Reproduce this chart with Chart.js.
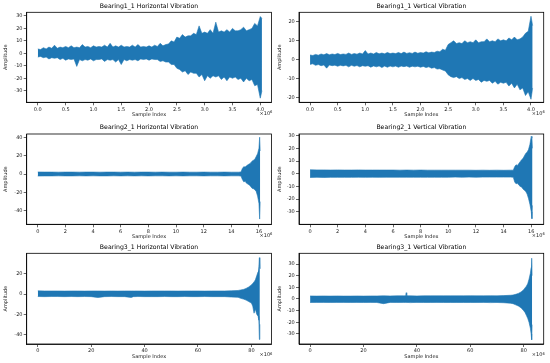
<!DOCTYPE html>
<html>
<head>
<meta charset="utf-8">
<script src="https://cdn.jsdelivr.net/npm/chart.js@4.4.1/dist/chart.umd.min.js"></script>
<style>
  html, body { margin: 0; padding: 0; background: #fff; }
  #wrap { position: relative; width: 550px; height: 363px; overflow: hidden; }
  canvas { position: absolute; }
</style>
</head>
<body>
<div id="wrap"></div>
<script>
// sample index, in units of 1e6
const bearing1X = [
  0, 0.05, 0.1, 0.15, 0.2, 0.25, 0.3, 0.35, 0.4, 0.45,
  0.5, 0.55, 0.6, 0.65, 0.7, 0.75, 0.8, 0.85, 0.9, 0.95,
  1.0, 1.05, 1.1, 1.15, 1.2, 1.25, 1.3, 1.35, 1.4, 1.45,
  1.5, 1.55, 1.6, 1.65, 1.7, 1.75, 1.8, 1.85, 1.9, 1.95,
  2.0, 2.05, 2.1, 2.15, 2.2, 2.25, 2.3, 2.35, 2.4, 2.45,
  2.5, 2.55, 2.6, 2.65, 2.7, 2.75, 2.8, 2.85, 2.9, 2.95,
  3.0, 3.05, 3.1, 3.15, 3.2, 3.25, 3.3, 3.35, 3.4, 3.45,
  3.5, 3.55, 3.6, 3.65, 3.7, 3.75, 3.8, 3.85, 3.9, 3.95,
  4.0, 4.03];
const bearing2X = [0, 0.5, 1, 1.5, 2, 2.5, 3, 3.5, 4, 4.5, 5, 5.5, 6, 6.5, 7, 7.5, 8, 8.5, 9, 9.5, 10, 10.5, 11, 11.5,
  12, 12.5, 13, 13.5, 14, 14.5, 14.7, 14.8, 14.9, 15.0, 15.1, 15.2, 15.3, 15.4, 15.5, 15.6, 15.7, 15.8, 15.9, 16.0, 16.05, 16.09];
const bearing3X = [0, 2.5, 5, 7.5, 10, 12.5, 15, 17.5, 20, 22.5, 25, 27.5, 30, 32.5, 35, 35.8, 36, 36.2, 37.5, 40, 42.5,
  45, 47.5, 50, 52.5, 55, 57.5, 60, 62.5, 65, 67.5, 70, 72.5, 75, 76, 77, 78, 79, 80, 80.5, 81, 81.5, 82, 82.5, 82.8,
  83.0, 83.17];

// amplitude envelopes (upper / lower)
const b1hUpper = [
  3.5, 3, 4.5, 3.5, 5, 4, 6.5, 4, 5, 4.5,
  5.5, 4.5, 6, 4.5, 5, 4.5, 7, 5, 5.5, 4.5,
  6, 5, 5.5, 5, 6.5, 5, 8, 5, 6, 5,
  6.5, 5, 5.5, 5, 6.5, 5, 7, 5, 5.5, 5,
  6, 5, 6.5, 5.5, 8, 6, 7, 7.5, 10, 9,
  13, 12, 15, 13, 14, 14, 16, 15, 22, 16,
  17, 16, 19, 16, 25, 17, 18, 17, 19, 17,
  20, 18, 18, 19, 21, 18, 19, 20, 24, 22,
  29.5, 28];
const b1hLower = [
  -3, -2.5, -3.5, -3, -4.5, -3.5, -4, -3.5, -5, -4,
  -5.5, -4.5, -5, -4.5, -10.5, -5, -6, -5, -5.5, -4.5,
  -6, -5, -5, -4.5, -6.5, -5, -5.5, -5, -7, -5,
  -9, -5, -6, -5, -5.5, -5, -6, -4.5, -5, -4.5,
  -5.5, -4.5, -5, -5, -6.5, -6, -7, -7, -9, -9,
  -12, -13, -15, -14, -17, -15, -16, -16, -19, -17,
  -22, -18, -20, -18, -19, -18, -21, -19, -22, -19,
  -20, -19, -21, -20, -23, -20, -22, -21, -26, -25,
  -36, -30];
const b1vUpper = [
  2.5, 2.2, 2.8, 2.4, 3, 2.6, 3.2, 2.6, 3, 2.7,
  3.3, 2.7, 3, 2.8, 3.5, 2.8, 3.2, 2.9, 3.5, 3,
  4.8, 3, 3.5, 3, 3.8, 3.1, 3.5, 3.1, 3.8, 3.2,
  3.5, 3.2, 3.8, 3.2, 4, 3.3, 3.7, 3.3, 4, 3.4,
  3.8, 3.5, 4.2, 3.6, 4, 3.8, 4.5, 4.2, 5.5, 5,
  8, 9, 10, 8.5, 9, 8.5, 10, 9, 9.5, 9,
  10.5, 9, 9.5, 9.5, 11, 9.5, 10, 9.5, 11, 10,
  10.5, 10, 11.5, 10.5, 12, 10.5, 11, 12, 14, 15,
  23, 18];
const b1vLower = [
  -2.5, -2.2, -3, -2.6, -3.2, -2.8, -4.5, -2.8, -3.2, -2.9,
  -3.5, -3, -3.3, -3, -3.8, -3, -3.5, -3.1, -3.8, -3.2,
  -3.5, -3.2, -4, -3.3, -3.8, -3.3, -4.2, -3.4, -4, -3.4,
  -3.8, -3.4, -4, -3.4, -3.7, -3.4, -4, -3.5, -3.8, -3.5,
  -4, -3.6, -4.2, -3.8, -4.5, -4.2, -5, -4.8, -5.5, -6,
  -8, -9, -9.5, -9, -10, -9.5, -10.5, -10, -11, -10,
  -11, -10.5, -12, -11, -11.5, -11, -12.5, -11.5, -13, -12,
  -12.5, -12, -14, -12.5, -15, -13, -16, -15, -19, -17,
  -21, -15];

const b2hUpper = [2.2, 2.1, 2.1, 2.0, 2.1, 2.1, 2.0, 2.1, 2.1, 2.0, 2.1, 2.1, 2.0, 2.1, 2.0, 2.1, 2.1, 2.0, 2.1, 2.0, 2.0, 2.1,
  2.0, 2.0, 2.1, 2.0, 2.0, 2.1, 2.0, 2.0, 2.2, 6, 8, 7.5, 9, 10, 11, 12, 14, 15, 16, 19, 22, 28, 40, 25];
const b2hLower = [-2.2, -2.1, -2.1, -2.0, -2.1, -2.1, -2.0, -2.1, -2.0, -2.1, -2.1, -2.0, -2.1, -2.0, -2.1, -2.0, -2.1, -2.0, -2.0,
  -2.1, -2.0, -2.1, -2.0, -2.0, -2.1, -2.0, -2.0, -2.1, -2.0, -2.0, -2.2, -6, -8.5, -8, -10, -11, -12, -13.5, -15.5, -16, -17,
  -19, -24, -32, -49, -30];
const b2vUpper = [3.1, 3.0, 3.0, 2.9, 3.0, 2.9, 2.9, 3.0, 2.9, 2.9, 2.9, 2.9, 2.9, 2.8, 2.9, 2.8, 2.9, 2.8, 2.8, 2.8, 2.8, 2.8,
  2.8, 2.8, 2.7, 2.8, 2.7, 2.8, 2.7, 2.8, 2.8, 5.5, 7, 6.5, 8, 9.5, 11, 12, 14, 16, 17, 19, 23, 29.5, 28, 20];
const b2vLower = [-3.0, -2.9, -3.0, -2.9, -2.9, -2.9, -2.9, -2.8, -2.9, -2.8, -2.9, -2.8, -2.8, -2.8, -2.8, -2.8, -2.8, -2.8, -2.8,
  -2.8, -2.8, -2.7, -2.8, -2.7, -2.8, -2.7, -2.7, -2.7, -2.7, -2.7, -2.8, -6.5, -8, -7.5, -9, -10, -10.5, -12, -13, -14, -16,
  -19.5, -24, -30, -35.5, -25];

const b3hUpper = [3.1, 3.0, 3.0, 3.0, 2.9, 3.0, 3.0, 2.9, 3.0, 3.0, 2.9, 3.0, 2.9, 3.0, 3.0, 3.0, 3.0, 3.0, 3.0, 2.9, 3.0,
  3.0, 3.0, 3.0, 2.9, 3.0, 3.0, 3.0, 2.9, 3.0, 3.0, 3.0, 3.2, 3.5, 4, 4.5, 5.5, 7, 9, 10.5, 12, 14, 18, 22, 27, 36, 25];
const b3hLower = [-2.5, -2.6, -2.5, -2.5, -2.6, -2.5, -2.6, -2.5, -2.6, -3.5, -2.6, -2.5, -2.6, -2.6, -3.4, -2.6, -2.6, -2.6, -2.5,
  -2.6, -2.6, -2.6, -2.5, -2.6, -2.6, -2.5, -2.6, -2.6, -2.5, -2.6, -2.6, -2.6, -3.0, -3.3, -4.3, -5, -6, -7.5, -9, -12, -19,
  -15, -20, -22, -26, -45, -30];
const b3vUpper = [2.6, 2.5, 2.6, 2.5, 2.6, 2.5, 2.5, 2.6, 2.5, 2.6, 2.6, 2.7, 2.6, 2.7, 2.7, 2.7, 5.4, 2.7, 2.7, 2.6, 2.7,
  2.7, 2.7, 2.7, 2.7, 2.7, 2.7, 2.8, 2.7, 2.7, 2.8, 2.7, 2.9, 3.2, 3.4, 4, 4.8, 6, 8, 9.5, 11, 13, 17, 22, 27, 35, 20];
const b3vLower = [-3.0, -2.9, -2.9, -3.0, -2.9, -2.9, -3.0, -2.9, -3.0, -2.9, -3.0, -4.0, -2.9, -3.0, -2.9, -2.9, -3.0, -2.9, -3.1,
  -2.9, -3.0, -3.0, -2.9, -3.0, -3.0, -3.0, -3.0, -3.0, -3.0, -2.9, -3.1, -3.0, -3.2, -3.6, -4, -5, -6, -7.5, -10, -11.5,
  -14, -16.5, -20, -25, -30, -35, -22];

// tick labels
const b1XTicks = [0, 0.5, 1.0, 1.5, 2.0, 2.5, 3.0, 3.5, 4.0];
const b2XTicks = [0, 2, 4, 6, 8, 10, 12, 14, 16];
const b3XTicks = [0, 20, 40, 60, 80];
const b1hYTicks = [-30, -20, -10, 0, 10, 20, 30];
const b1vYTicks = [-20, -10, 0, 10, 20];
const b2hYTicks = [-40, -20, 0, 20, 40];
const b2vYTicks = [-30, -20, -10, 0, 10, 20, 30];
const b3hYTicks = [-40, -20, 0, 20];
const b3vYTicks = [-30, -20, -10, 0, 10, 20, 30];

const titles = ['Bearing1_1 Horizontal Vibration', 'Bearing1_1 Vertical Vibration',
  'Bearing2_1 Horizontal Vibration', 'Bearing2_1 Vertical Vibration',
  'Bearing3_1 Horizontal Vibration', 'Bearing3_1 Vertical Vibration'];

const BLUE = '#1f77b4';
const FONT = 'DejaVu Sans';

// layout of the 3x2 grid
const cols = [
  { left: 0, yw: 26.7, rpad: 3.6, ytPad: 2.7 },
  { left: 275, yw: 24, rpad: 6.3, ytPad: 1.7 }
];
const rows = [
  { top: 0, tpad: 12.3, xh: 18.7 },
  { top: 121, tpad: 13, xh: 17.7 },
  { top: 242, tpad: 11.3, xh: 19 }
];

const panels = [
  { xs: bearing1X, up: b1hUpper, lo: b1hLower, xr: [-0.2, 4.2], yr: [-39.3, 32.9], xt: b1XTicks, yt: b1hYTicks, dec: 1 },
  { xs: bearing1X, up: b1vUpper, lo: b1vLower, xr: [-0.2, 4.23], yr: [-22.6, 25.1], xt: b1XTicks, yt: b1vYTicks, dec: 1 },
  { xs: bearing2X, up: b2hUpper, lo: b2hLower, xr: [-0.8, 16.9], yr: [-54.7, 43.5], xt: b2XTicks, yt: b2hYTicks, dec: 0 },
  { xs: bearing2X, up: b2vUpper, lo: b2vLower, xr: [-0.8, 16.9], yr: [-39.9, 31.3], xt: b2XTicks, yt: b2vYTicks, dec: 0 },
  { xs: bearing3X, up: b3hUpper, lo: b3hLower, xr: [-4.16, 87.5], yr: [-49.5, 40.3], xt: b3XTicks, yt: b3hYTicks, dec: 0 },
  { xs: bearing3X, up: b3vUpper, lo: b3vLower, xr: [-4.16, 87.5], yr: [-38.6, 39.2], xt: b3XTicks, yt: b3vYTicks, dec: 0 }
];

// frame, title and the x10^6 offset text
const framePlugin = {
  id: 'frame',
  afterDraw(chart, args, opts) {
    const { ctx, chartArea: a } = chart;
    ctx.save();
    ctx.strokeStyle = '#000';
    ctx.lineWidth = 0.8;
    ctx.strokeRect(a.left, a.top, a.right - a.left, a.bottom - a.top);

    ctx.fillStyle = '#000';
    ctx.font = '6.2px "' + FONT + '"';
    ctx.textAlign = 'center';
    ctx.textBaseline = 'middle';
    ctx.fillText(opts.title, (a.left + a.right) / 2, a.top - 6.3);

    ctx.textAlign = 'right';
    ctx.font = '3.6px "' + FONT + '"';
    ctx.fillStyle = '#222';
    const supW = ctx.measureText('6').width;
    ctx.fillText('6', a.right + 1, a.bottom + 9.6);
    ctx.font = '5px "' + FONT + '"';
    ctx.fillText('\u00d710', a.right + 1 - supW, a.bottom + 11);
    ctx.restore();
  }
};

panels.forEach((p, i) => {
  const col = cols[i % 2];
  const row = rows[Math.floor(i / 2)];
  const canvas = document.createElement('canvas');
  canvas.width = 275;
  canvas.height = 121;
  canvas.style.left = col.left + 'px';
  canvas.style.top = row.top + 'px';
  document.getElementById('wrap').appendChild(canvas);

  const upper = p.xs.map((x, k) => ({ x: x, y: p.up[k] }));
  const lower = p.xs.map((x, k) => ({ x: x, y: p.lo[k] }));
  const tickFont = { family: FONT, size: 5 };
  const gridOpts = { display: true, drawOnChartArea: false, drawTicks: true, tickLength: 3, color: '#000', lineWidth: 0.6 };

  new Chart(canvas, {
    type: 'line',
    data: {
      datasets: [
        { data: upper, borderColor: BLUE, borderWidth: 0.6, backgroundColor: BLUE, pointRadius: 0, fill: false, tension: 0 },
        { data: lower, borderColor: BLUE, borderWidth: 0.6, backgroundColor: BLUE, pointRadius: 0, fill: '-1', tension: 0 }
      ]
    },
    options: {
      responsive: false,
      animation: false,
      events: [],
      layout: { padding: { top: row.tpad, right: col.rpad, left: 0, bottom: 0 } },
      plugins: {
        legend: { display: false },
        tooltip: { enabled: false },
        frame: { title: titles[i] }
      },
      scales: {
        x: {
          type: 'linear',
          min: p.xr[0],
          max: p.xr[1],
          afterBuildTicks: s => { s.ticks = p.xt.map(v => ({ value: v })); },
          afterFit: s => { s.height = row.xh; },
          ticks: {
            font: tickFont, color: '#222', padding: 1.2, maxRotation: 0, autoSkip: false,
            callback: v => v.toFixed(p.dec)
          },
          grid: gridOpts,
          border: { display: true, color: '#000', width: 0.8 },
          title: {
            display: true, text: 'Sample Index', color: '#222',
            font: { family: FONT, size: 5 },
            padding: { top: 0, bottom: row.xh - 12.7 - 3 }
          }
        },
        y: {
          type: 'linear',
          min: p.yr[0],
          max: p.yr[1],
          afterBuildTicks: s => { s.ticks = p.yt.map(v => ({ value: v })); },
          afterFit: s => { s.width = col.yw; },
          ticks: { font: tickFont, color: '#222', padding: 1.2, autoSkip: false },
          grid: gridOpts,
          border: { display: true, color: '#000', width: 0.8 },
          title: {
            display: true, text: 'Amplitude', color: '#222',
            font: { family: FONT, size: 5 },
            padding: { top: col.ytPad, bottom: 0 }
          }
        }
      }
    },
    plugins: [framePlugin]
  });
});
</script>
</body>
</html>
